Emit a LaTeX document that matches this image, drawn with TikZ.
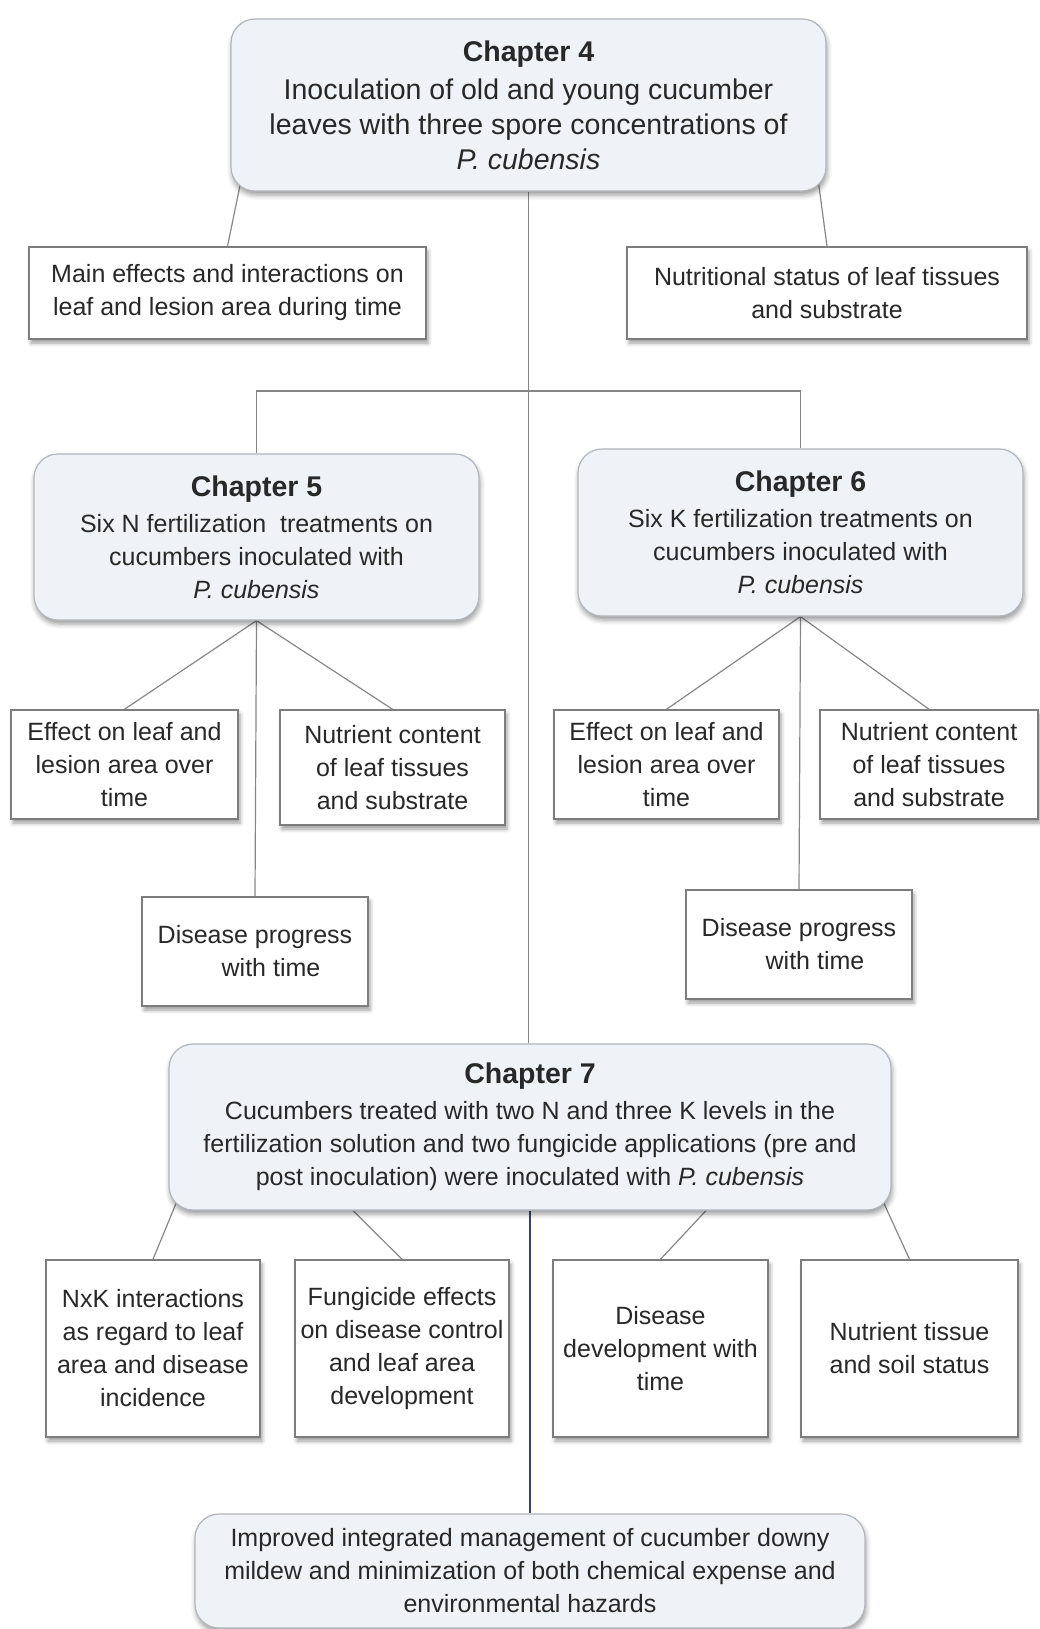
\documentclass[tikz,border=0pt]{standalone}
\usepackage{fontspec}
\setmainfont{Liberation Sans}
\usetikzlibrary{shadows.blur,backgrounds}
\definecolor{chapfill}{RGB}{239,242,246}
\definecolor{chapline}{RGB}{178,183,189}
\definecolor{boxline}{RGB}{125,125,125}
\definecolor{textgray}{RGB}{40,40,40}
\definecolor{linkgray}{RGB}{135,135,135}
\definecolor{linkblue}{RGB}{55,70,100}
\newcommand{\chaphead}[1]{{\fontsize{28.5}{33}\selectfont\bfseries #1}\\[3pt]}
\tikzset{
  chapbox/.style={draw=chapline, line width=1.2pt, fill=chapfill, rounded corners=24pt,
    inner sep=0pt, align=center, text=textgray, font=\fontsize{25}{33}\selectfont,
    blur shadow={shadow xshift=1pt, shadow yshift=-4pt, shadow blur radius=5pt, shadow opacity=40}},
  infobox/.style={draw=boxline, line width=1.5pt, fill=white, inner sep=0pt,
    align=center, text=textgray, font=\fontsize{25}{33}\selectfont,
    blur shadow={shadow xshift=2pt, shadow yshift=-4pt, shadow blur radius=4pt, shadow opacity=40}},
  link/.style={draw=linkgray, line width=1.2pt}
}

\begin{document}
\begin{tikzpicture}[x=1pt, y=-1pt]
\useasboundingbox (0,0) rectangle (1040,1629);

% Chapter 4 and its outcomes
\node[chapbox, minimum width=595pt, minimum height=172pt, font=\fontsize{28.5}{35}\selectfont] (ch4) at (528.5,105) {
\chaphead{Chapter 4}
Inoculation of old and young cucumber\\
leaves with three spore concentrations of\\
\textit{P. cubensis}
};
\node[infobox, minimum width=397pt, minimum height=92pt] (main) at (227.5,293) {
Main effects and interactions on\\
leaf and lesion area during time
};
\node[infobox, minimum width=400pt, minimum height=92pt] (nutr) at (827,293) {
Nutritional status of leaf tissues\\
and substrate
};

% Chapters 5 and 6
\node[chapbox, minimum width=445pt, minimum height=166pt] (ch5) at (256.5,537) {
\chaphead{Chapter 5}
Six N fertilization\ \ treatments on\\
cucumbers inoculated with\\
\textit{P. cubensis}
};
\node[chapbox, minimum width=445pt, minimum height=167pt] (ch6) at (800.5,532.5) {
\chaphead{Chapter 6}
Six K fertilization treatments on\\
cucumbers inoculated with\\
\textit{P. cubensis}
};

\node[infobox, minimum width=227pt, minimum height=109pt] (e5) at (124.5,764.5) {
Effect on leaf and\\
lesion area over\\
time
};
\node[infobox, minimum width=225pt, minimum height=115pt] (n5) at (392.5,767.5) {
Nutrient content\\
of leaf tissues\\
and substrate
};
\node[infobox, minimum width=226pt, minimum height=109pt] (d5) at (255,951.5) {
Disease progress\\
\hspace*{32pt}with time
};

\node[infobox, minimum width=225pt, minimum height=109pt] (e6) at (666.5,764.5) {
Effect on leaf and\\
lesion area over\\
time
};
\node[infobox, minimum width=218pt, minimum height=109pt] (n6) at (929,764.5) {
Nutrient content\\
of leaf tissues\\
and substrate
};
\node[infobox, minimum width=226pt, minimum height=109pt] (d6) at (799,944.5) {
Disease progress\\
\hspace*{32pt}with time
};

% Chapter 7 and its outcomes
\node[chapbox, minimum width=722pt, minimum height=166pt] (ch7) at (530,1127) {
\chaphead{Chapter 7}
Cucumbers treated with two N and three K levels in the\\
fertilization solution and two fungicide applications (pre and\\
post inoculation) were inoculated with \textit{P. cubensis}
};

\node[infobox, minimum width=214pt, minimum height=177pt] (k1) at (153,1348.5) {
NxK interactions\\
as regard to leaf\\
area and disease\\
incidence
};
\node[infobox, minimum width=214pt, minimum height=177pt] (k2) at (402,1348.5) {
Fungicide effects\\
on disease control\\
and leaf area\\
development
};
\node[infobox, minimum width=215pt, minimum height=177pt] (k3) at (660.5,1348.5) {
Disease\\
development with\\
time
};
\node[infobox, minimum width=217pt, minimum height=177pt] (k4) at (909.5,1348.5) {
Nutrient tissue\\
and soil status
};

\node[chapbox, minimum width=670pt, minimum height=114pt] (fin) at (530,1571) {
Improved integrated management of cucumber downy\\
mildew and minimization of both chemical expense and\\
environmental hazards
};

% connectors
\begin{scope}[on background layer]
\coordinate (split) at (528,391);
\draw[link] ([xshift=10pt,yshift=8pt]ch4.south west) -- (main.north);
\draw[link] ([xshift=-8pt,yshift=8pt]ch4.south east) -- (nutr.north);
\draw[link] (ch4.south) -- (ch4.south |- ch7.north);
\draw[link] (ch5.north) |- (split) -| (ch6.north);

\draw[link] (ch5.south) -- (e5.north);
\draw[link] (ch5.south) -- (n5.north);
\draw[link] (ch5.south) -- (d5.north);
\draw[link] (ch6.south) -- (e6.north);
\draw[link] (ch6.south) -- (n6.north);
\draw[link] (ch6.south) -- (d6.north);

\draw[link] ([xshift=8pt,yshift=8pt]ch7.south west) -- (k1.north);
\draw[link] ([xshift=-177pt]ch7.south) -- (k2.north);
\draw[link] ([xshift=176pt]ch7.south) -- (k3.north);
\draw[link] ([xshift=-8pt,yshift=8pt]ch7.south east) -- (k4.north);
\draw[link, draw=linkblue] (ch7.south) -- (fin.north);
\end{scope}
\end{tikzpicture}
\end{document}
